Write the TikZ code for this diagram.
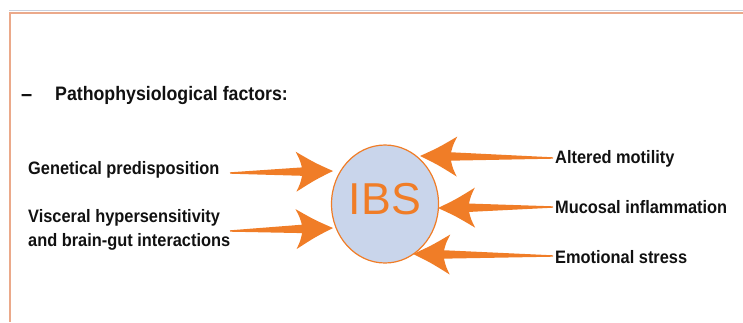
\documentclass[tikz,border=0pt]{standalone}
\usepackage{fontspec}
\setmainfont{Liberation Sans}
\newfontfamily\narrowsans[FakeStretch=0.91]{Liberation Sans}
\usetikzlibrary{shapes.geometric,calc}
\definecolor{arrorange}{HTML}{F07D27}
\definecolor{frameorange}{HTML}{EBA98A}
\definecolor{framegray}{HTML}{C8CFDC}
\definecolor{ibsfill}{HTML}{C9D5EB}
\definecolor{txt}{HTML}{111111}
\tikzset{
  lbl/.style={inner sep=0pt, anchor=west, text=txt, align=left,
    font=\narrowsans\bfseries\fontsize{18}{24}\selectfont},
  ttl/.style={inner sep=0pt, anchor=west, text=txt,
    font=\narrowsans\bfseries\fontsize{19.5}{23}\selectfont},
  fat/.style={fill=arrorange},
  frame/.style={frameorange, line width=2pt},
}
\newcommand\fatarrow[2]{%
  \fill[fat] let \p1=(#1), \p2=(#2),
    \n1={atan2(\y1-\y2,\x1-\x2)}, \n2={veclen(\x1-\x2,\y1-\y2)} in
    [shift={(\p2)}, rotate=\n1]
    (0,0) .. controls (18,8.5) .. (37,20) .. controls (33,12) .. (31,4.2)
    -- (\n2,0.7) -- (\n2,-0.7) -- (31,-4.2) .. controls (33,-12) .. (37,-20)
    .. controls (18,-8.5) .. (0,0) -- cycle;}
\begin{document}
\begin{tikzpicture}[x=1pt, y=-1pt]
\useasboundingbox (0,0) rectangle (743,322);
% frame
\draw[framegray, line width=1.2pt] (9,10.5) -- (743,10.5);
\draw[frame] (10,13) -- (743,13);
\draw[frame] (10,12) -- (10,322);
% title
\node[ttl] (dash) at (21,97.5) {\fontsize{22}{23}\selectfont –};
\node[ttl] (title) at (55,95.5) {Pathophysiological factors:};
% center
\node[ellipse, draw=arrorange, line width=1.2pt, fill=ibsfill,
  minimum width=107pt, minimum height=118pt, inner sep=0pt,
  text=arrorange, font=\fontsize{44.7}{50}\selectfont, text depth=10pt]
  (ibs) at (385,204) {IBS};
% labels
\node[lbl] (gen) at (28,169.5) {Genetical predisposition};
\node[lbl] (vis) at (28,229.5) {Visceral hypersensitivity\\and brain-gut interactions};
\node[lbl] (alt) at (555,158.5) {Altered motility};
\node[lbl] (muc) at (555,207.5) {Mucosal inflammation};
\node[lbl] (emo) at (555,257.5) {Emotional stress};
% arrow ends
\coordinate (g0) at (230,173); \coordinate (g1) at (333,171);
\coordinate (v0) at (230,231); \coordinate (v1) at (333,228);
\coordinate (a0) at (553,158); \coordinate (a1) at (420,156);
\coordinate (m0) at (553,207); \coordinate (m1) at (438,208);
\coordinate (e0) at (553,256); \coordinate (e1) at (413,254);
\fatarrow{g0}{g1}
\fatarrow{v0}{v1}
\fatarrow{a0}{a1}
\fatarrow{m0}{m1}
\fatarrow{e0}{e1}
\end{tikzpicture}
\end{document}
